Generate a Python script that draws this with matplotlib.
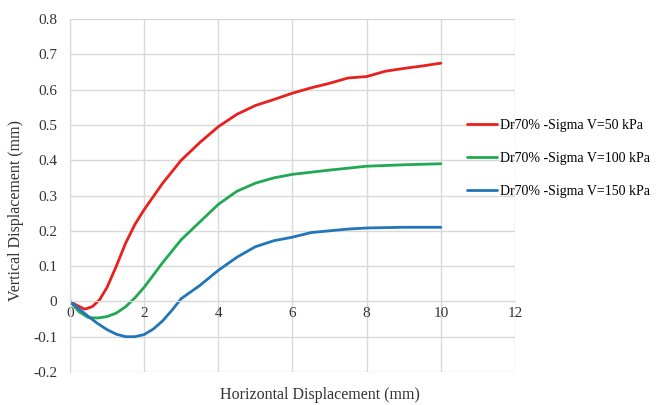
import matplotlib
matplotlib.use("Agg")
import matplotlib.pyplot as plt

# values
x_50 = [0, 0.2, 0.4, 0.6, 0.8, 1.0, 1.25, 1.5, 1.75, 2.0, 2.5, 3.0, 3.5, 4.0, 4.5,
        5.0, 5.5, 6.0, 6.5, 7.0, 7.5, 8.0, 8.5, 9.0, 9.5, 10.0]
y_50 = [0, -0.012, -0.022, -0.015, 0.005, 0.04, 0.10, 0.165, 0.218, 0.26, 0.335, 0.40,
        0.45, 0.495, 0.53, 0.555, 0.572, 0.59, 0.605, 0.618, 0.633, 0.637, 0.652,
        0.66, 0.667, 0.675]

x_100 = [0, 0.25, 0.5, 0.75, 1.0, 1.25, 1.5, 1.75, 2.0, 2.5, 3.0, 3.5, 4.0, 4.5,
         5.0, 5.5, 6.0, 7.0, 8.0, 9.0, 10.0]
y_100 = [0, -0.03, -0.046, -0.047, -0.043, -0.033, -0.015, 0.01, 0.04, 0.11, 0.175,
         0.225, 0.275, 0.312, 0.335, 0.35, 0.36, 0.372, 0.383, 0.387, 0.39]

x_150 = [0, 0.25, 0.5, 0.75, 1.0, 1.25, 1.5, 1.75, 2.0, 2.25, 2.5, 2.75, 3.0, 3.5,
         4.0, 4.5, 5.0, 5.5, 6.0, 6.5, 7.0, 7.5, 8.0, 9.0, 10.0]
y_150 = [0, -0.022, -0.043, -0.063, -0.08, -0.093, -0.1, -0.1, -0.094, -0.078,
         -0.055, -0.025, 0.008, 0.045, 0.088, 0.125, 0.155, 0.172, 0.182, 0.195,
         0.2, 0.205, 0.208, 0.21, 0.21]

labels = ["Dr70% -Sigma V=50 kPa", "Dr70% -Sigma V=100 kPa", "Dr70% -Sigma V=150 kPa"]
colors = ["#e8201e", "#22a853", "#2275b8"]

plt.rcParams['font.family'] = ['Liberation Serif', 'DejaVu Serif']

fig = plt.figure(figsize=(6.56, 4.05), dpi=100)
ax = fig.add_axes([0.1067, 0.0815, 0.6783, 0.8715])

for xs, ys, c, lab in zip([x_50, x_100, x_150], [y_50, y_100, y_150], colors, labels):
    ax.plot(xs, ys, color=c, lw=2, label=lab, solid_joinstyle="round", solid_capstyle="round")

ax.set_xlim(0, 12)
ax.set_ylim(-0.2, 0.8)
ax.set_xticks(range(0, 13, 2))
ax.set_yticks([-0.2, -0.1, 0, 0.1, 0.2, 0.3, 0.4, 0.5, 0.6, 0.7, 0.8])
ax.set_yticklabels(["-0.2", "-0.1", "0", "0.1", "0.2", "0.3", "0.4", "0.5", "0.6", "0.7", "0.8"])
ax.grid(True, color="#d9d9d9", lw=1)
ax.set_axisbelow(True)

for s in ["top", "right"]:
    ax.spines[s].set_visible(False)
ax.spines["left"].set_color("#d9d9d9")
ax.spines["bottom"].set_position(("data", 0))
ax.spines["bottom"].set_color("#d9d9d9")
ax.tick_params(axis="both", length=0, labelsize=11, colors="#333333")
ax.tick_params(axis="y", pad=9)
ax.tick_params(axis="x", pad=4)

fig.text(0.488, 0.025, "Horizontal Displacement (mm)", ha="center", va="center",
         fontsize=11.5, color="#333333")
fig.text(0.024, 0.48, "Vertical Displacement (mm)", ha="center", va="center",
         rotation=90, fontsize=11.5, color="#333333")

ax.legend(loc="upper left", bbox_to_anchor=(0.892, 0.718), frameon=False,
          fontsize=10, handlelength=2.2, handletextpad=0.2, labelspacing=1.45,
          borderaxespad=0, borderpad=0)

fig.savefig("out.png", dpi=100)
